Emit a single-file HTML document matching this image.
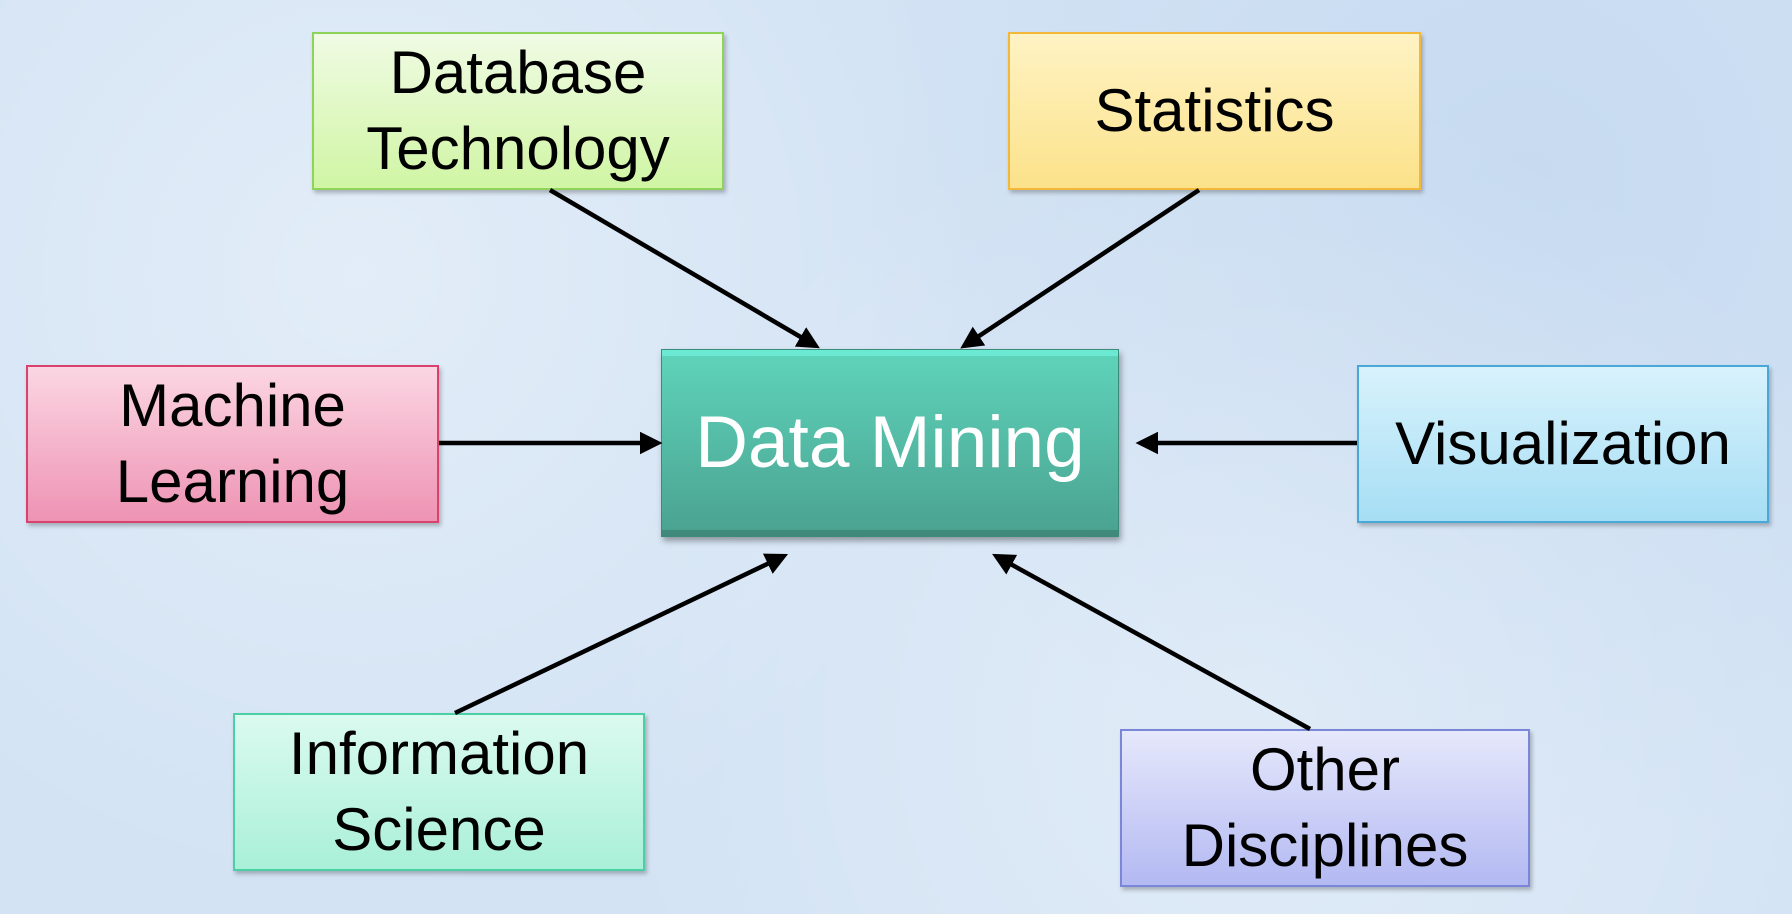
<!DOCTYPE html>
<html><head><meta charset="utf-8"><style>
html,body{margin:0;padding:0}
body{width:1792px;height:914px;overflow:hidden;position:relative;
background:#d3e3f4;
background-image:radial-gradient(circle at 20% 30%,rgba(255,255,255,.35),transparent 40%),radial-gradient(circle at 70% 80%,rgba(255,255,255,.3),transparent 45%),radial-gradient(circle at 85% 20%,rgba(180,205,235,.4),transparent 40%);
font-family:"Liberation Sans","DejaVu Sans",sans-serif}
.b{position:absolute;box-sizing:border-box;display:flex;align-items:center;justify-content:center;text-align:center;font-size:60px;line-height:76px;color:#000;border:2px solid;box-shadow:2px 3px 4px rgba(0,0,0,.25)}
svg{position:absolute;left:0;top:0}
</style></head><body>
<div class="b" style="left:312px;top:32px;width:412px;height:158px;border-color:#8fd35a;background:linear-gradient(#f0fbe4,#d0f5a4)">Database<br>Technology</div>
<div class="b" style="left:1008px;top:32px;width:413px;height:158px;border-color:#f3b839;background:linear-gradient(#fff3c4,#fbe28a)">Statistics</div>
<div class="b" style="left:26px;top:365px;width:413px;height:158px;border-color:#d9426e;background:linear-gradient(#fbd6e3,#ee93b3)">Machine<br>Learning</div>
<div class="b" style="left:1357px;top:365px;width:412px;height:158px;border-color:#4aa8d8;background:linear-gradient(#d8f2fc,#a6def4)">Visualization</div>
<div class="b" style="left:233px;top:713px;width:412px;height:158px;border-color:#4dcfa5;background:linear-gradient(#dbfaf0,#a9f0d8)">Information<br>Science</div>
<div class="b" style="left:1120px;top:729px;width:410px;height:158px;border-color:#7b86d8;background:linear-gradient(#e6e8fb,#b3b9f2)">Other<br>Disciplines</div>
<div class="b" style="left:661px;top:349px;width:458px;height:188px;border:1px solid #3c8a78;background:linear-gradient(#5fd4bb,#4aa290);color:#fff;font-size:73px;box-shadow:inset 0 6px 0 rgba(120,255,235,.5),inset 0 -6px 0 rgba(0,0,0,.15),2px 4px 6px rgba(0,0,0,.35)">Data Mining</div>
<svg width="1792" height="914">
<defs><marker id="a" markerWidth="5" markerHeight="5" refX="4" refY="2.5" orient="auto" markerUnits="strokeWidth"><path d="M0,0 L5,2.5 L0,5 z" fill="#000"/></marker></defs>
<g stroke="#000" stroke-width="4.5" marker-end="url(#a)">
<line x1="550" y1="190" x2="816" y2="346"/>
<line x1="1199" y1="190" x2="964" y2="346"/>
<line x1="439" y1="443" x2="658" y2="443"/>
<line x1="1357" y1="443" x2="1140" y2="443"/>
<line x1="455" y1="713" x2="784" y2="556"/>
<line x1="1310" y1="729" x2="996" y2="556"/>
</g></svg>
</body></html>
